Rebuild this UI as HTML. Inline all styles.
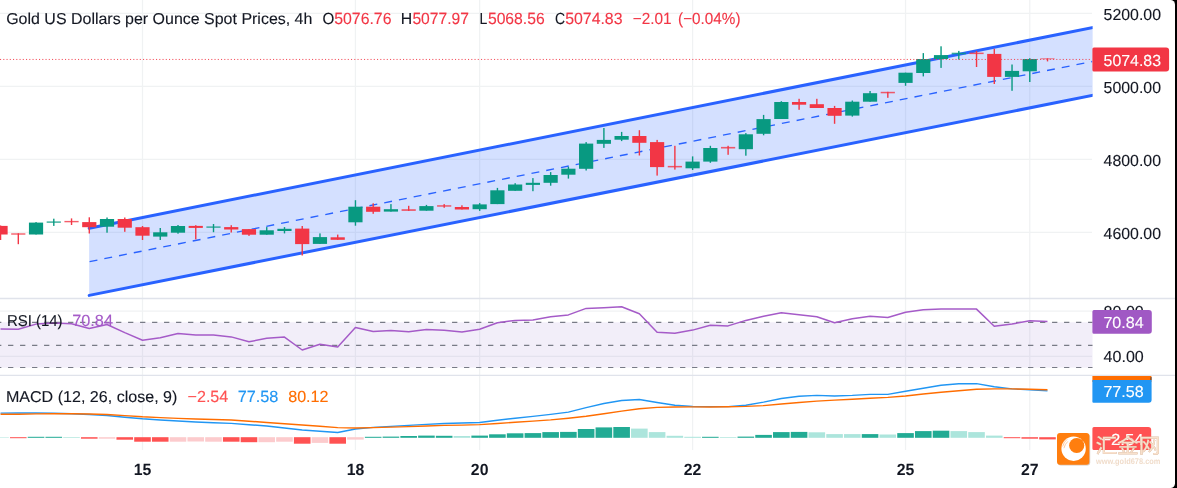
<!DOCTYPE html>
<html lang="en">
<head>
<meta charset="utf-8">
<title>Gold US Dollars per Ounce Spot Prices, 4h</title>
<style>
html,body{margin:0;padding:0;background:#000;}
body{width:1177px;height:488px;overflow:hidden;position:relative;}
#card{position:absolute;left:0;top:0;width:1175px;height:488px;background:#fff;border-radius:0 4.5px 4.5px 0;overflow:hidden;}
svg{position:absolute;left:0;top:0;display:block;}
text{font-family:"Liberation Sans","Noto Sans CJK SC",sans-serif;text-rendering:geometricPrecision;}
.lg{font-size:15.8px;}
.cp{font-size:16px;}
.ax{font-size:15.9px;fill:#131722;stroke:#131722;stroke-width:0.12px;}
.nm{font-size:16.2px;}
.tm{font-size:16.2px;font-weight:bold;fill:#131722;text-anchor:middle;}
.lb{font-size:16px;fill:#fff;stroke:#fff;stroke-width:0.12px;}
</style>
</head>
<body>
<div id="card">
<svg width="1177" height="488" viewBox="0 0 1177 488">

<g stroke="#F0F2F3" stroke-width="1.25">
<line x1="142.50" y1="0" x2="142.50" y2="450"/>
<line x1="355.44" y1="0" x2="355.44" y2="450"/>
<line x1="479.66" y1="0" x2="479.66" y2="450"/>
<line x1="692.60" y1="0" x2="692.60" y2="450"/>
<line x1="905.54" y1="0" x2="905.54" y2="450"/>
<line x1="1029.75" y1="0" x2="1029.75" y2="450"/>
<line x1="0" y1="13.3" x2="1092" y2="13.3"/>
<line x1="0" y1="86.3" x2="1092" y2="86.3"/>
<line x1="0" y1="159.4" x2="1092" y2="159.4"/>
<line x1="0" y1="232.3" x2="1092" y2="232.3"/>
<line x1="0" y1="311.2" x2="1092" y2="311.2"/>
<line x1="0" y1="356.3" x2="1092" y2="356.3"/>
</g>
<rect x="0" y="322.3" width="1092.5" height="45.3" fill="#7E57C2" fill-opacity="0.1"/>
<g stroke="#787B86" stroke-width="1.2" stroke-dasharray="5.3 6.7" stroke-dashoffset="3.95">
<line x1="0" y1="322.4" x2="1092.5" y2="322.4"/>
<line x1="0" y1="345.4" x2="1092.5" y2="345.4"/>
<line x1="0" y1="367.5" x2="1092.5" y2="367.5"/>
</g>
<g stroke="#E0E3EB" stroke-width="1.4"><line x1="0" y1="298.5" x2="1175" y2="298.5"/><line x1="0" y1="375.4" x2="1175" y2="375.4"/></g>
<polygon points="89.10,228.20 1092.60,27.54 1092.60,95.34 89.10,295.40" fill="#2962FF" fill-opacity="0.2"/>
<clipPath id="cc"><rect x="0" y="0" width="1092.6" height="298"/></clipPath>
<g stroke="#2962FF" fill="none" clip-path="url(#cc)">
<line x1="89.20" y1="228.18" x2="1095.30" y2="27.00" stroke-width="3" stroke-linecap="round"/>
<line x1="89.20" y1="295.38" x2="1095.30" y2="94.80" stroke-width="3" stroke-linecap="round"/>
<line x1="89.60" y1="261.60" x2="1092.30" y2="61.50" stroke-width="1.35" stroke-dasharray="7.95 7.07"/>
</g>
<rect x="-0.14" y="225.5" width="1.4" height="14.5" fill="#F23645"/>
<rect x="-6.56" y="225.9" width="14.2" height="8.6" fill="#F23645"/>
<rect x="17.61" y="233.3" width="1.4" height="10.9" fill="#F23645"/>
<rect x="11.18" y="233.3" width="14.2" height="1.4" fill="#F23645" fill-opacity="0.8"/>
<rect x="35.36" y="222.1" width="1.4" height="12.4" fill="#089981"/>
<rect x="28.93" y="222.6" width="14.2" height="11.9" fill="#089981"/>
<rect x="53.10" y="218.7" width="1.4" height="7.2" fill="#089981"/>
<rect x="46.67" y="221.4" width="14.2" height="1.4" fill="#089981" fill-opacity="0.8"/>
<rect x="70.84" y="218.4" width="1.4" height="6.6" fill="#F23645"/>
<rect x="64.42" y="220.9" width="14.2" height="1.4" fill="#F23645" fill-opacity="0.8"/>
<rect x="88.59" y="217.3" width="1.4" height="16.2" fill="#F23645"/>
<rect x="82.17" y="222.1" width="14.2" height="5.1" fill="#F23645"/>
<rect x="106.33" y="217.5" width="1.4" height="15.2" fill="#089981"/>
<rect x="99.91" y="219.0" width="14.2" height="7.7" fill="#089981"/>
<rect x="124.08" y="217.5" width="1.4" height="14.3" fill="#F23645"/>
<rect x="117.66" y="219.0" width="14.2" height="8.7" fill="#F23645"/>
<rect x="141.82" y="226.0" width="1.4" height="14.0" fill="#F23645"/>
<rect x="135.40" y="227.2" width="14.2" height="8.5" fill="#F23645"/>
<rect x="159.57" y="228.0" width="1.4" height="12.0" fill="#089981"/>
<rect x="153.15" y="232.3" width="14.2" height="4.3" fill="#089981"/>
<rect x="177.31" y="225.0" width="1.4" height="8.7" fill="#089981"/>
<rect x="170.89" y="226.0" width="14.2" height="6.7" fill="#089981"/>
<rect x="195.06" y="225.2" width="1.4" height="14.1" fill="#F23645"/>
<rect x="188.64" y="225.9" width="14.2" height="2.0" fill="#F23645"/>
<rect x="212.81" y="224.0" width="1.4" height="8.2" fill="#089981"/>
<rect x="206.38" y="226.4" width="14.2" height="1.4" fill="#089981" fill-opacity="0.8"/>
<rect x="230.55" y="225.2" width="1.4" height="7.3" fill="#F23645"/>
<rect x="224.13" y="227.1" width="14.2" height="2.4" fill="#F23645"/>
<rect x="248.29" y="229.1" width="1.4" height="6.8" fill="#F23645"/>
<rect x="241.87" y="229.1" width="14.2" height="5.6" fill="#F23645"/>
<rect x="266.04" y="227.1" width="1.4" height="7.6" fill="#089981"/>
<rect x="259.62" y="230.3" width="14.2" height="4.4" fill="#089981"/>
<rect x="283.79" y="227.1" width="1.4" height="6.3" fill="#089981"/>
<rect x="277.36" y="228.8" width="14.2" height="2.2" fill="#089981"/>
<rect x="301.53" y="226.0" width="1.4" height="29.5" fill="#F23645"/>
<rect x="295.11" y="228.6" width="14.2" height="15.5" fill="#F23645"/>
<rect x="319.28" y="233.4" width="1.4" height="10.5" fill="#089981"/>
<rect x="312.85" y="237.1" width="14.2" height="6.8" fill="#089981"/>
<rect x="337.02" y="234.6" width="1.4" height="5.2" fill="#F23645"/>
<rect x="330.60" y="237.3" width="14.2" height="2.5" fill="#F23645"/>
<rect x="354.76" y="200.2" width="1.4" height="25.5" fill="#089981"/>
<rect x="348.34" y="206.7" width="14.2" height="15.6" fill="#089981"/>
<rect x="372.51" y="203.3" width="1.4" height="10.5" fill="#F23645"/>
<rect x="366.08" y="206.7" width="14.2" height="5.1" fill="#F23645"/>
<rect x="390.25" y="204.1" width="1.4" height="7.5" fill="#089981"/>
<rect x="383.83" y="209.2" width="14.2" height="2.4" fill="#089981"/>
<rect x="408.00" y="205.8" width="1.4" height="5.1" fill="#F23645"/>
<rect x="401.57" y="209.2" width="14.2" height="1.7" fill="#F23645" fill-opacity="0.8"/>
<rect x="425.75" y="204.9" width="1.4" height="5.8" fill="#089981"/>
<rect x="419.32" y="206.1" width="14.2" height="4.6" fill="#089981"/>
<rect x="443.49" y="204.1" width="1.4" height="3.7" fill="#F23645"/>
<rect x="437.06" y="205.2" width="14.2" height="1.5" fill="#F23645" fill-opacity="0.8"/>
<rect x="461.24" y="205.3" width="1.4" height="4.2" fill="#F23645"/>
<rect x="454.81" y="207.0" width="14.2" height="2.5" fill="#F23645"/>
<rect x="478.98" y="203.1" width="1.4" height="7.8" fill="#089981"/>
<rect x="472.56" y="204.4" width="14.2" height="4.8" fill="#089981"/>
<rect x="496.73" y="187.9" width="1.4" height="16.2" fill="#089981"/>
<rect x="490.30" y="190.3" width="14.2" height="13.8" fill="#089981"/>
<rect x="514.47" y="183.2" width="1.4" height="7.6" fill="#089981"/>
<rect x="508.04" y="184.5" width="14.2" height="6.3" fill="#089981"/>
<rect x="532.22" y="178.1" width="1.4" height="13.1" fill="#089981"/>
<rect x="525.79" y="182.8" width="14.2" height="2.1" fill="#089981"/>
<rect x="549.96" y="172.1" width="1.4" height="13.6" fill="#089981"/>
<rect x="543.53" y="175.0" width="14.2" height="7.8" fill="#089981"/>
<rect x="567.71" y="166.7" width="1.4" height="11.9" fill="#089981"/>
<rect x="561.28" y="168.7" width="14.2" height="6.0" fill="#089981"/>
<rect x="585.45" y="142.1" width="1.4" height="28.4" fill="#089981"/>
<rect x="579.02" y="143.6" width="14.2" height="25.2" fill="#089981"/>
<rect x="603.20" y="128.0" width="1.4" height="19.9" fill="#089981"/>
<rect x="596.77" y="139.9" width="14.2" height="3.9" fill="#089981"/>
<rect x="620.94" y="131.9" width="1.4" height="9.2" fill="#089981"/>
<rect x="614.51" y="136.0" width="14.2" height="3.7" fill="#089981"/>
<rect x="638.69" y="130.2" width="1.4" height="25.3" fill="#F23645"/>
<rect x="632.26" y="136.0" width="14.2" height="6.8" fill="#F23645"/>
<rect x="656.43" y="139.9" width="1.4" height="35.7" fill="#F23645"/>
<rect x="650.00" y="142.1" width="14.2" height="25.0" fill="#F23645"/>
<rect x="674.18" y="145.8" width="1.4" height="23.8" fill="#F23645"/>
<rect x="667.75" y="165.9" width="14.2" height="1.5" fill="#F23645" fill-opacity="0.8"/>
<rect x="691.92" y="156.4" width="1.4" height="13.6" fill="#089981"/>
<rect x="685.50" y="161.6" width="14.2" height="6.7" fill="#089981"/>
<rect x="709.67" y="145.8" width="1.4" height="17.0" fill="#089981"/>
<rect x="703.24" y="148.0" width="14.2" height="13.6" fill="#089981"/>
<rect x="727.41" y="145.8" width="1.4" height="9.0" fill="#F23645"/>
<rect x="720.99" y="146.9" width="14.2" height="1.6" fill="#F23645" fill-opacity="0.8"/>
<rect x="745.16" y="133.1" width="1.4" height="22.6" fill="#089981"/>
<rect x="738.73" y="134.3" width="14.2" height="14.9" fill="#089981"/>
<rect x="762.90" y="114.9" width="1.4" height="20.4" fill="#089981"/>
<rect x="756.48" y="119.1" width="14.2" height="14.7" fill="#089981"/>
<rect x="780.65" y="101.2" width="1.4" height="17.8" fill="#089981"/>
<rect x="774.22" y="102.0" width="14.2" height="17.0" fill="#089981"/>
<rect x="798.39" y="98.8" width="1.4" height="11.0" fill="#F23645"/>
<rect x="791.97" y="102.0" width="14.2" height="2.7" fill="#F23645"/>
<rect x="816.14" y="98.8" width="1.4" height="9.2" fill="#F23645"/>
<rect x="809.71" y="104.2" width="14.2" height="3.8" fill="#F23645"/>
<rect x="833.88" y="105.9" width="1.4" height="17.9" fill="#F23645"/>
<rect x="827.46" y="108.0" width="14.2" height="7.8" fill="#F23645"/>
<rect x="851.63" y="100.5" width="1.4" height="16.1" fill="#089981"/>
<rect x="845.20" y="101.7" width="14.2" height="13.9" fill="#089981"/>
<rect x="869.37" y="91.0" width="1.4" height="10.7" fill="#089981"/>
<rect x="862.95" y="93.2" width="14.2" height="8.5" fill="#089981"/>
<rect x="887.12" y="91.8" width="1.4" height="6.0" fill="#F23645"/>
<rect x="880.69" y="91.8" width="14.2" height="1.5" fill="#F23645" fill-opacity="0.8"/>
<rect x="904.86" y="72.7" width="1.4" height="13.1" fill="#089981"/>
<rect x="898.44" y="72.7" width="14.2" height="10.2" fill="#089981"/>
<rect x="922.61" y="53.1" width="1.4" height="23.3" fill="#089981"/>
<rect x="916.18" y="59.0" width="14.2" height="14.0" fill="#089981"/>
<rect x="940.35" y="46.3" width="1.4" height="21.6" fill="#089981"/>
<rect x="933.93" y="55.1" width="14.2" height="3.9" fill="#089981"/>
<rect x="958.10" y="50.9" width="1.4" height="8.6" fill="#089981"/>
<rect x="951.67" y="52.7" width="14.2" height="1.6" fill="#089981" fill-opacity="0.8"/>
<rect x="975.84" y="50.9" width="1.4" height="16.1" fill="#F23645"/>
<rect x="969.42" y="52.6" width="14.2" height="1.5" fill="#F23645" fill-opacity="0.8"/>
<rect x="993.59" y="48.8" width="1.4" height="35.2" fill="#F23645"/>
<rect x="987.16" y="53.9" width="14.2" height="23.0" fill="#F23645"/>
<rect x="1011.33" y="64.5" width="1.4" height="26.3" fill="#089981"/>
<rect x="1004.90" y="70.9" width="14.2" height="6.0" fill="#089981"/>
<rect x="1029.08" y="58.2" width="1.4" height="23.8" fill="#089981"/>
<rect x="1022.65" y="59.0" width="14.2" height="12.3" fill="#089981"/>
<rect x="1046.82" y="58.4" width="1.4" height="3.0" fill="#F23645"/>
<rect x="1040.39" y="58.4" width="14.2" height="0.8" fill="#F23645" fill-opacity="0.8"/>
<line x1="0" y1="59.45" x2="1092" y2="59.45" stroke="#F23645" stroke-width="1" stroke-dasharray="1.1 2.15" stroke-opacity="0.9"/>
<polyline fill="none" stroke="#A55BC8" stroke-width="1.5" stroke-linejoin="round" points="0.54,329.0 18.28,329.2 36.03,324.1 53.77,323.0 71.52,323.7 89.27,328.5 107.01,324.5 124.75,332.6 142.50,340.2 160.25,337.7 177.99,333.6 195.74,335.1 213.48,335.1 231.23,336.9 248.97,341.8 266.72,338.3 284.46,337.1 302.21,350.0 319.95,344.2 337.70,346.9 355.44,327.5 373.19,331.6 390.93,330.6 408.68,331.8 426.42,329.6 444.17,330.2 461.91,332.1 479.66,329.2 497.40,322.8 515.14,320.4 532.89,320.0 550.63,316.7 568.38,314.9 586.12,308.4 603.87,307.7 621.62,306.7 639.36,313.7 657.11,332.2 674.85,333.2 692.60,330.1 710.34,325.3 728.09,325.9 745.83,320.4 763.58,316.3 781.32,312.8 799.07,314.7 816.81,316.7 834.56,322.8 852.30,318.8 870.05,316.3 887.79,317.5 905.54,312.2 923.28,309.8 941.03,308.9 958.77,308.9 976.52,309.1 994.26,326.2 1012.00,324.1 1029.75,320.8 1047.49,321.4"/>
<rect x="-7.76" y="437.3" width="16.6" height="0.5" fill="#ACE5DC"/>
<rect x="9.98" y="437.2" width="16.6" height="1.0" fill="#FF5252"/>
<rect x="27.73" y="436.8" width="16.6" height="1.0" fill="#22AB94"/>
<rect x="45.47" y="436.8" width="16.6" height="1.0" fill="#22AB94"/>
<rect x="63.22" y="437.1" width="16.6" height="0.7" fill="#ACE5DC"/>
<rect x="80.97" y="437.2" width="16.6" height="1.5" fill="#FF5252"/>
<rect x="98.71" y="437.2" width="16.6" height="1.5" fill="#FCCBCD"/>
<rect x="116.45" y="437.2" width="16.6" height="2.5" fill="#FF5252"/>
<rect x="134.20" y="437.2" width="16.6" height="4.5" fill="#FF5252"/>
<rect x="151.94" y="437.2" width="16.6" height="4.5" fill="#FF5252"/>
<rect x="169.69" y="437.2" width="16.6" height="4.5" fill="#FCCBCD"/>
<rect x="187.44" y="437.2" width="16.6" height="4.3" fill="#FCCBCD"/>
<rect x="205.18" y="437.2" width="16.6" height="4.5" fill="#FCCBCD"/>
<rect x="222.93" y="437.2" width="16.6" height="4.5" fill="#FF5252"/>
<rect x="240.67" y="437.2" width="16.6" height="5.0" fill="#FF5252"/>
<rect x="258.42" y="437.2" width="16.6" height="5.0" fill="#FCCBCD"/>
<rect x="276.16" y="437.2" width="16.6" height="4.5" fill="#FCCBCD"/>
<rect x="293.91" y="437.2" width="16.6" height="6.5" fill="#FF5252"/>
<rect x="311.65" y="437.2" width="16.6" height="5.7" fill="#FCCBCD"/>
<rect x="329.40" y="437.2" width="16.6" height="6.5" fill="#FF5252"/>
<rect x="347.14" y="437.2" width="16.6" height="2.4" fill="#FCCBCD"/>
<rect x="364.88" y="436.8" width="16.6" height="1.0" fill="#22AB94"/>
<rect x="382.63" y="436.6" width="16.6" height="1.2" fill="#22AB94"/>
<rect x="400.38" y="436.0" width="16.6" height="1.8" fill="#22AB94"/>
<rect x="418.12" y="435.6" width="16.6" height="2.2" fill="#22AB94"/>
<rect x="435.87" y="435.8" width="16.6" height="2.0" fill="#22AB94"/>
<rect x="453.61" y="436.0" width="16.6" height="1.8" fill="#ACE5DC"/>
<rect x="471.36" y="435.6" width="16.6" height="2.2" fill="#22AB94"/>
<rect x="489.10" y="434.3" width="16.6" height="3.5" fill="#22AB94"/>
<rect x="506.84" y="433.3" width="16.6" height="4.5" fill="#22AB94"/>
<rect x="524.59" y="433.1" width="16.6" height="4.7" fill="#22AB94"/>
<rect x="542.34" y="432.1" width="16.6" height="5.7" fill="#22AB94"/>
<rect x="560.08" y="431.9" width="16.6" height="5.9" fill="#22AB94"/>
<rect x="577.83" y="429.0" width="16.6" height="8.8" fill="#22AB94"/>
<rect x="595.57" y="427.4" width="16.6" height="10.4" fill="#22AB94"/>
<rect x="613.32" y="427.0" width="16.6" height="10.8" fill="#22AB94"/>
<rect x="631.06" y="428.6" width="16.6" height="9.2" fill="#ACE5DC"/>
<rect x="648.81" y="432.1" width="16.6" height="5.7" fill="#ACE5DC"/>
<rect x="666.55" y="435.8" width="16.6" height="2.0" fill="#ACE5DC"/>
<rect x="684.30" y="436.8" width="16.6" height="1.0" fill="#ACE5DC"/>
<rect x="702.04" y="436.8" width="16.6" height="1.0" fill="#22AB94"/>
<rect x="719.79" y="437.1" width="16.6" height="0.7" fill="#ACE5DC"/>
<rect x="737.53" y="436.6" width="16.6" height="1.2" fill="#22AB94"/>
<rect x="755.28" y="434.9" width="16.6" height="2.9" fill="#22AB94"/>
<rect x="773.02" y="432.1" width="16.6" height="5.7" fill="#22AB94"/>
<rect x="790.77" y="431.9" width="16.6" height="5.9" fill="#22AB94"/>
<rect x="808.51" y="432.3" width="16.6" height="5.5" fill="#ACE5DC"/>
<rect x="826.26" y="434.1" width="16.6" height="3.7" fill="#ACE5DC"/>
<rect x="844.00" y="434.1" width="16.6" height="3.7" fill="#ACE5DC"/>
<rect x="861.75" y="434.1" width="16.6" height="3.7" fill="#22AB94"/>
<rect x="879.49" y="434.5" width="16.6" height="3.3" fill="#ACE5DC"/>
<rect x="897.24" y="433.1" width="16.6" height="4.7" fill="#22AB94"/>
<rect x="914.98" y="431.1" width="16.6" height="6.7" fill="#22AB94"/>
<rect x="932.73" y="430.7" width="16.6" height="7.1" fill="#22AB94"/>
<rect x="950.47" y="431.1" width="16.6" height="6.7" fill="#ACE5DC"/>
<rect x="968.22" y="432.1" width="16.6" height="5.7" fill="#ACE5DC"/>
<rect x="985.96" y="435.6" width="16.6" height="2.2" fill="#ACE5DC"/>
<rect x="1003.71" y="437.2" width="16.6" height="1.0" fill="#FF5252"/>
<rect x="1021.45" y="437.2" width="16.6" height="1.5" fill="#FF5252"/>
<rect x="1039.19" y="437.2" width="16.6" height="2.2" fill="#FF5252"/>
<polyline fill="none" stroke="#2196F3" stroke-width="1.4" stroke-linejoin="round" points="0.54,413.1 18.28,413.0 36.03,412.9 53.77,413.2 71.52,413.7 89.27,414.5 107.01,415.5 124.75,417.2 142.50,418.8 160.25,420.0 177.99,421.0 195.74,422.0 213.48,422.8 231.23,423.4 248.97,424.7 266.72,426.0 284.46,428.0 302.21,430.0 319.95,431.2 337.70,432.5 355.44,429.0 373.19,427.4 390.93,426.4 408.68,425.4 426.42,424.4 444.17,423.5 461.91,423.0 479.66,422.5 497.40,420.3 515.14,418.2 532.89,416.4 550.63,414.4 568.38,412.1 586.12,407.6 603.87,403.5 621.62,400.5 639.36,399.5 657.11,402.5 674.85,405.2 692.60,406.5 710.34,406.6 728.09,406.6 745.83,405.2 763.58,402.1 781.32,398.5 799.07,396.2 816.81,395.4 834.56,396.0 852.30,395.4 870.05,394.4 887.79,394.4 905.54,391.3 923.28,388.3 941.03,385.2 958.77,383.8 976.52,383.6 994.26,386.8 1012.00,388.9 1029.75,389.7 1047.49,390.9"/>
<polyline fill="none" stroke="#FF6D00" stroke-width="1.4" stroke-linejoin="round" points="0.54,414.2 18.28,414.2 36.03,413.9 53.77,413.7 71.52,413.7 89.27,414.0 107.01,414.5 124.75,415.6 142.50,416.8 160.25,417.6 177.99,418.4 195.74,419.0 213.48,419.5 231.23,420.0 248.97,421.2 266.72,422.5 284.46,423.7 302.21,425.0 319.95,426.3 337.70,427.6 355.44,428.0 373.19,427.6 390.93,427.1 408.68,426.6 426.42,426.0 444.17,425.4 461.91,425.1 479.66,424.6 497.40,423.5 515.14,422.3 532.89,421.1 550.63,419.9 568.38,418.2 586.12,416.2 603.87,413.7 621.62,411.1 639.36,408.8 657.11,407.4 674.85,407.0 692.60,406.9 710.34,407.0 728.09,406.8 745.83,406.4 763.58,405.6 781.32,404.0 799.07,402.5 816.81,401.1 834.56,400.1 852.30,399.3 870.05,398.2 887.79,397.4 905.54,396.0 923.28,394.0 941.03,392.3 958.77,390.7 976.52,389.3 994.26,388.9 1012.00,388.9 1029.75,389.3 1047.49,389.7"/>
<text class="lg" x="6.2" y="24.2" textLength="306.2" lengthAdjust="spacingAndGlyphs" style="fill:#131722;stroke:#131722;stroke-width:0.12px">Gold US Dollars per Ounce Spot Prices, 4h</text>
<text class="cp" x="322.4" y="24.2" textLength="11.8" lengthAdjust="spacingAndGlyphs" style="fill:#131722;stroke:#131722;stroke-width:0.12px">O</text>
<text class="nm" x="334.2" y="24.2" textLength="57.3" lengthAdjust="spacingAndGlyphs" style="fill:#F23645;stroke:#F23645;stroke-width:0.12px">5076.76</text>
<text class="cp" x="400.7" y="24.2" textLength="11.4" lengthAdjust="spacingAndGlyphs" style="fill:#131722;stroke:#131722;stroke-width:0.12px">H</text>
<text class="nm" x="412.4" y="24.2" textLength="56.6" lengthAdjust="spacingAndGlyphs" style="fill:#F23645;stroke:#F23645;stroke-width:0.12px">5077.97</text>
<text class="cp" x="479.5" y="24.2" textLength="7.8" lengthAdjust="spacingAndGlyphs" style="fill:#131722;stroke:#131722;stroke-width:0.12px">L</text>
<text class="nm" x="487.9" y="24.2" textLength="56.8" lengthAdjust="spacingAndGlyphs" style="fill:#F23645;stroke:#F23645;stroke-width:0.12px">5068.56</text>
<text class="cp" x="555.0" y="24.2" textLength="10.1" lengthAdjust="spacingAndGlyphs" style="fill:#131722;stroke:#131722;stroke-width:0.12px">C</text>
<text class="nm" x="565.2" y="24.2" textLength="57.3" lengthAdjust="spacingAndGlyphs" style="fill:#F23645;stroke:#F23645;stroke-width:0.12px">5074.83</text>
<text class="nm" x="632.7" y="24.2" textLength="38.9" lengthAdjust="spacingAndGlyphs" style="fill:#F23645;stroke:#F23645;stroke-width:0.12px">−2.01</text>
<text class="nm" x="678.1" y="24.2" textLength="62.4" lengthAdjust="spacingAndGlyphs" style="fill:#F23645;stroke:#F23645;stroke-width:0.12px">(−0.04%)</text>
<text class="lg" x="6.9" y="325.9" textLength="55.7" lengthAdjust="spacingAndGlyphs" style="fill:#131722;stroke:#131722;stroke-width:0.12px">RSI (14)</text>
<text class="nm" x="72.2" y="325.9" textLength="40.8" lengthAdjust="spacingAndGlyphs" style="fill:#A55BC8;stroke:#A55BC8;stroke-width:0.12px">70.84</text>
<text class="lg" x="5.9" y="402.0" textLength="171.5" lengthAdjust="spacingAndGlyphs" style="fill:#131722;stroke:#131722;stroke-width:0.12px">MACD (12, 26, close, 9)</text>
<text class="nm" x="187.5" y="402.0" textLength="40.8" lengthAdjust="spacingAndGlyphs" style="fill:#FF5252;stroke:#FF5252;stroke-width:0.12px">−2.54</text>
<text class="nm" x="237.7" y="402.0" textLength="40.7" lengthAdjust="spacingAndGlyphs" style="fill:#2196F3;stroke:#2196F3;stroke-width:0.12px">77.58</text>
<text class="nm" x="288.2" y="402.0" textLength="40.3" lengthAdjust="spacingAndGlyphs" style="fill:#FF6D00;stroke:#FF6D00;stroke-width:0.12px">80.12</text>
<text class="ax" x="1103.6" y="20.4" textLength="57.4" lengthAdjust="spacingAndGlyphs">5200.00</text>
<text class="ax" x="1103.6" y="93.4" textLength="57.4" lengthAdjust="spacingAndGlyphs">5000.00</text>
<text class="ax" x="1103.6" y="166.4" textLength="57.4" lengthAdjust="spacingAndGlyphs">4800.00</text>
<text class="ax" x="1103.6" y="239.4" textLength="57.4" lengthAdjust="spacingAndGlyphs">4600.00</text>
<text class="ax" x="1103.6" y="316.6" textLength="40.2" lengthAdjust="spacingAndGlyphs">80.00</text>
<text class="ax" x="1103.6" y="362.3" textLength="40.2" lengthAdjust="spacingAndGlyphs">40.00</text>
<path d="M1093.90,47.50 H1166.10 A3,3 0 0 1 1169.10,50.50 V68.40 A3,3 0 0 1 1166.10,71.40 H1093.90 A1.5,1.5 0 0 1 1092.40,69.90 V49.00 A1.5,1.5 0 0 1 1093.90,47.50 Z" fill="#F23645"/>
<text class="lb" x="1103.6" y="65.5" textLength="57.4" lengthAdjust="spacingAndGlyphs">5074.83</text>
<path d="M1093.90,309.90 H1148.80 A3,3 0 0 1 1151.80,312.90 V330.70 A3,3 0 0 1 1148.80,333.70 H1093.90 A1.5,1.5 0 0 1 1092.40,332.20 V311.40 A1.5,1.5 0 0 1 1093.90,309.90 Z" fill="#A058C4"/>
<text class="lb" x="1103.4" y="327.9" textLength="40.2" lengthAdjust="spacingAndGlyphs">70.84</text>
<path d="M1092.40,376.00 H1151.40 V382.00 H1092.40 V376.00 Z" fill="#FF6D00"/>
<path d="M1150.6,377.3 l0.9,-0.4 v3.1 h-0.9 z" fill="#2A2E39"/>
<path d="M1092.40,380.00 H1151.60 V399.70 A3,3 0 0 1 1148.60,402.70 H1093.40 A1,1 0 0 1 1092.40,401.70 V380.00 Z" fill="#2196F3"/>
<text class="lb" x="1103.4" y="397.0" textLength="40.2" lengthAdjust="spacingAndGlyphs">77.58</text>
<path d="M1093.90,426.90 H1148.20 A3,3 0 0 1 1151.20,429.90 V447.10 A3,3 0 0 1 1148.20,450.10 H1093.90 A1.5,1.5 0 0 1 1092.40,448.60 V428.40 A1.5,1.5 0 0 1 1093.90,426.90 Z" fill="#FF5252"/>
<text class="lb" x="1101.2" y="444.8" textLength="42.5" lengthAdjust="spacingAndGlyphs">−2.54</text>
<text class="tm" x="142.50" y="474.8" textLength="17.6" lengthAdjust="spacingAndGlyphs">15</text>
<text class="tm" x="355.44" y="474.8" textLength="17.6" lengthAdjust="spacingAndGlyphs">18</text>
<text class="tm" x="479.66" y="474.8" textLength="17.6" lengthAdjust="spacingAndGlyphs">20</text>
<text class="tm" x="692.60" y="474.8" textLength="17.6" lengthAdjust="spacingAndGlyphs">22</text>
<text class="tm" x="905.54" y="474.8" textLength="17.6" lengthAdjust="spacingAndGlyphs">25</text>
<text class="tm" x="1029.75" y="474.8" textLength="17.6" lengthAdjust="spacingAndGlyphs">27</text>
<g>
<rect x="1057.9" y="433.9" width="32.3" height="31.7" rx="3" fill="#7A4A20" fill-opacity="0.3"/>
<rect x="1057" y="433" width="32.3" height="31.7" rx="3" fill="#FF7E0E"/>
<circle cx="1073.6" cy="448.7" r="12.2" fill="#fff"/>
<circle cx="1076.7" cy="445.5" r="7.6" fill="#FF7E0E"/>
<path d="M1081.2,439.2 L1083.4,437.2 L1085.2,439.6 L1083,441.6 z" fill="#FF7E0E"/>
<path d="M1062.6,446.5 q1.2,-4.6 4.6,-7.2 M1063.9,448.2 q1,-4.2 4,-6.8" stroke="#FF7E0E" stroke-width="0.5" fill="none" stroke-opacity="0.8"/>
<text x="1095.4" y="453.1" font-size="20.6" textLength="65.2" lengthAdjust="spacingAndGlyphs" style="font-family:'Liberation Sans','Noto Sans CJK SC',sans-serif;font-weight:400;filter:drop-shadow(0.9px 0.9px 0.2px rgba(165,112,70,0.8))" fill="#FAE3CF" fill-opacity="0.97" stroke="#FAE3CF" stroke-width="0.25">汇金网</text>
<text x="1096" y="464.3" font-size="8.2" font-weight="bold" textLength="64.4" lengthAdjust="spacingAndGlyphs" fill="#EACDB4" fill-opacity="0.7">www.gold678.com</text>
</g>
</svg>
</div>
</body>
</html>
